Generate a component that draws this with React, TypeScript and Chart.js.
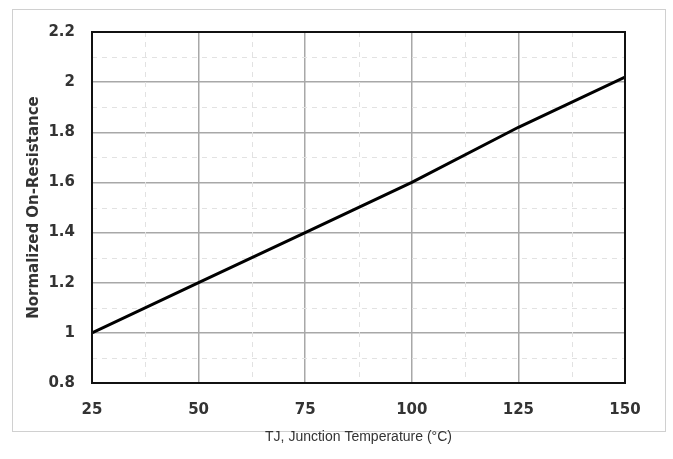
import React, { useEffect, useRef } from "react";
import { Chart, registerables } from "chart.js";

Chart.register(...registerables);

const temperatures = [25, 50, 75, 100, 125, 150];
const resistance = [1.0, 1.2, 1.4, 1.6, 1.82, 2.02];
const xTickValues = [25, 50, 75, 100, 125, 150];
const yTickValues = [0.8, 1.0, 1.2, 1.4, 1.6, 1.8, 2.0, 2.2];
const xMinorValues = [37.5, 62.5, 87.5, 112.5, 137.5];
const yMinorValues = [0.9, 1.1, 1.3, 1.5, 1.7, 1.9, 2.1];
const xTitle = "TJ, Junction Temperature (°C)";
const yTitle = "Normalized On-Resistance";

const tickFont = { family: "'DejaVu Sans', sans-serif", size: 15, weight: "bold" as const };

const decorPlugin = {
  id: "decor",
  beforeDraw(chart: any) {
    const ctx = chart.ctx;
    ctx.save();
    ctx.strokeStyle = "#d0d0d0";
    ctx.lineWidth = 1;
    ctx.strokeRect(12.5, 9.5, 653, 422);
    ctx.restore();
  },
  beforeDatasetsDraw(chart: any) {
    const { ctx, chartArea, scales } = chart;
    ctx.save();
    ctx.strokeStyle = "#e2e2e2";
    ctx.lineWidth = 1;
    ctx.setLineDash([5, 5]);
    xMinorValues.forEach((v) => {
      const px = Math.round(scales.x.getPixelForValue(v)) + 0.5;
      ctx.beginPath();
      ctx.moveTo(px, chartArea.top);
      ctx.lineTo(px, chartArea.bottom);
      ctx.stroke();
    });
    yMinorValues.forEach((v) => {
      const py = Math.round(scales.y.getPixelForValue(v)) + 0.5;
      ctx.beginPath();
      ctx.moveTo(chartArea.left, py);
      ctx.lineTo(chartArea.right, py);
      ctx.stroke();
    });
    ctx.restore();
  },
  afterDraw(chart: any) {
    const { ctx, chartArea } = chart;
    ctx.save();
    ctx.strokeStyle = "#111";
    ctx.lineWidth = 2;
    ctx.strokeRect(chartArea.left, chartArea.top, chartArea.right - chartArea.left, chartArea.bottom - chartArea.top);
    ctx.restore();
  },
};

export default function App() {
  const ref = useRef<HTMLCanvasElement>(null);
  useEffect(() => {
    document.body.style.margin = "0";
    const chart = new Chart(ref.current!, {
      type: "line",
      data: {
        datasets: [
          {
            data: temperatures.map((t, i) => ({ x: t, y: resistance[i] })),
            borderColor: "#000",
            borderWidth: 3,
            pointRadius: 0,
            tension: 0,
            fill: false,
          },
        ],
      },
      options: {
        animation: false,
        responsive: false,
        layout: { padding: { left: 25, right: 48, top: 32, bottom: 11 } },
        plugins: { legend: { display: false }, tooltip: { enabled: false } },
        scales: {
          x: {
            type: "linear",
            min: 25,
            max: 150,
            afterBuildTicks: (axis: any) => {
              axis.ticks = xTickValues.map((v) => ({ value: v }));
            },
            afterFit: (axis: any) => {
              axis.height = 65;
            },
            ticks: { font: tickFont, color: "#333", padding: 18 },
            grid: { color: "#a8a8a8", lineWidth: 1.5, drawTicks: false },
            border: { display: false },
            title: {
              display: true,
              text: xTitle,
              font: { family: "'Liberation Sans', Arial, sans-serif", size: 14 },
              color: "#333",
              padding: { top: 13, bottom: 2 },
            },
          },
          y: {
            type: "linear",
            min: 0.8,
            max: 2.2,
            afterBuildTicks: (axis: any) => {
              axis.ticks = yTickValues.map((v) => ({ value: v }));
            },
            afterFit: (axis: any) => {
              axis.width = 67;
            },
            ticks: {
              font: tickFont,
              color: "#333",
              padding: 17,
              callback: (v: any) => String(Math.round(Number(v) * 10) / 10),
            },
            grid: { color: "#a8a8a8", lineWidth: 1.5, drawTicks: false },
            border: { display: false },
            title: {
              display: true,
              text: yTitle,
              font: { family: "'DejaVu Sans', sans-serif", size: 15, weight: "bold" },
              color: "#333",
              padding: { top: 0, bottom: 8 },
            },
          },
        },
      },
      plugins: [decorPlugin],
    });
    return () => chart.destroy();
  }, []);
  return (
    <div style={{ position: "fixed", left: 0, top: 0, width: 673, height: 459, background: "#fff" }}>
      <canvas ref={ref} width={673} height={459} />
    </div>
  );
}
